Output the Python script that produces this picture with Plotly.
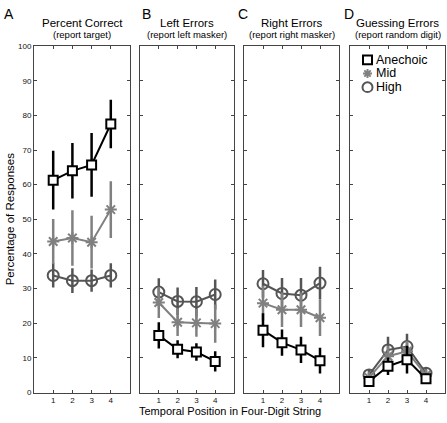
import plotly.graph_objects as go

W, H = 447, 423

positions = [1, 2, 3, 4]
series_names = ["Anechoic", "Mid", "High"]
panel_letters = ["A", "B", "C", "D"]
panel_titles = ["Percent Correct", "Left Errors", "Right Errors", "Guessing Errors"]
panel_subtitles = ["(report target)", "(report left masker)", "(report right masker)", "(report random digit)"]
y_ticks = [0, 10, 20, 30, 40, 50, 60, 70, 80, 90, 100]
x_title = "Temporal Position in Four-Digit String"
y_title = "Percentage of Responses"

# one row per panel (A, B, C, D), values at positions 1..4
anechoic_mean = [[61.3, 64.0, 65.7, 77.5], [16.5, 12.5, 11.7, 9.0], [18.0, 14.4, 12.3, 9.2], [3.2, 7.6, 9.5, 4.0]]
anechoic_err = [[8.5, 8.0, 9.2, 7.0], [3.8, 2.6, 2.5, 2.9], [4.9, 3.8, 3.8, 3.7], [1.5, 2.5, 4.0, 1.5]]
mid_mean = [[43.6, 44.6, 43.4, 52.8], [26.0, 20.3, 20.1, 19.9], [25.8, 23.9, 23.9, 21.6], [4.3, 10.5, 11.9, 5.0]]
mid_err = [[6.5, 8.0, 7.6, 8.2], [4.5, 4.0, 4.0, 5.5], [5.0, 5.0, 5.0, 5.3], [1.5, 3.0, 3.0, 1.5]]
high_mean = [[33.8, 32.3, 32.3, 33.8], [29.0, 26.3, 26.2, 28.3], [31.4, 28.6, 28.1, 31.6], [5.1, 12.3, 13.3, 5.6]]
high_err = [[3.5, 3.6, 3.2, 3.5], [4.0, 4.0, 4.3, 4.3], [4.0, 4.5, 5.0, 4.7], [1.5, 3.8, 3.7, 1.5]]

means = {"Anechoic": anechoic_mean, "Mid": mid_mean, "High": high_mean}
errs = {"Anechoic": anechoic_err, "Mid": mid_err, "High": high_err}
styles = {
    "Anechoic": dict(color="#000000", symbol="square", fill="#ffffff", size=9),
    "Mid": dict(color="#808080", symbol="asterisk-open", fill="#808080", size=10),
    "High": dict(color="#555555", symbol="circle-open", fill="#555555", size=11),
}

FONT = "Liberation Sans, Arial, sans-serif"
panel_px = [(34, 130), (140, 234), (244, 339), (350, 445)]
y_top_px, y_bot_px = 43, 397

fig = go.Figure()

for i in range(4):
    ax = "" if i == 0 else str(i + 1)
    for name in ["High", "Mid", "Anechoic"]:
        st = styles[name]
        fig.add_trace(go.Scatter(
            x=positions, y=means[name][i],
            xaxis="x" + ax, yaxis="y" + ax,
            mode="lines+markers",
            line=dict(color=st["color"], width=2),
            marker=dict(symbol=st["symbol"], size=st["size"], color=st["fill"],
                        line=dict(color=st["color"], width=2)),
            error_y=dict(type="data", array=errs[name][i], visible=True,
                         color=st["color"], thickness=2.5, width=0),
            showlegend=False, hoverinfo="skip",
        ))


def px(x):
    return x / W


def py(y):
    return 1 - y / H


layout = dict(
    width=W, height=H,
    margin=dict(l=0, r=0, t=0, b=0),
    paper_bgcolor="white", plot_bgcolor="white",
    font=dict(family=FONT, color="#000000"),
    showlegend=False,
)

annotations = []
shapes = []
for i in range(4):
    ax = "" if i == 0 else str(i + 1)
    x0, x1 = panel_px[i]
    layout["xaxis" + ax] = dict(
        domain=[px(x0), px(x1)], range=[0, 5], anchor="y" + ax,
        tickvals=positions, ticktext=[str(p) for p in positions],
        ticks="inside", ticklen=3, tickcolor="#444", tickwidth=1,
        showline=True, linecolor="#444", linewidth=1, mirror="ticks",
        showgrid=False, zeroline=False,
        tickfont=dict(size=8, family=FONT, color="#111"),
        fixedrange=True,
    )
    layout["yaxis" + ax] = dict(
        domain=[py(y_bot_px), py(y_top_px)], range=[0, 100], anchor="x" + ax,
        tickvals=y_ticks, ticks="inside", ticklen=3, tickcolor="#444", tickwidth=1,
        showline=True, linecolor="#444", linewidth=1, mirror="ticks",
        showgrid=False, zeroline=False, showticklabels=(i == 0),
        tickfont=dict(size=8, family=FONT, color="#111"),
        fixedrange=True,
    )
    cx = px((x0 + x1) / 2)
    annotations.append(dict(text=panel_titles[i], x=cx, y=py(19), xref="paper", yref="paper",
                            xanchor="center", yanchor="middle", showarrow=False,
                            font=dict(size=11.5, family=FONT)))
    annotations.append(dict(text=panel_subtitles[i], x=cx, y=py(31), xref="paper", yref="paper",
                            xanchor="center", yanchor="middle", showarrow=False,
                            font=dict(size=9.5, family=FONT)))

letter_px = [2, 140, 236, 342]
for i in range(4):
    annotations.append(dict(text=panel_letters[i], x=px(letter_px[i]), y=py(10),
                            xref="paper", yref="paper", xanchor="left", yanchor="middle",
                            showarrow=False, font=dict(size=14, family=FONT)))

annotations.append(dict(text=x_title, x=px(230), y=py(416), xref="paper", yref="paper",
                        xanchor="center", yanchor="middle", showarrow=False,
                        font=dict(size=11, family=FONT)))
annotations.append(dict(text=y_title, x=px(10), y=py(220), xref="paper", yref="paper",
                        xanchor="center", yanchor="middle", showarrow=False, textangle=-90,
                        font=dict(size=11.5, family=FONT)))

# legend (custom, compact like the reference)
leg_sym_x = 367.5
leg_text_x = 375
leg_rows = [57, 71, 85]
for name, yy in zip(series_names, leg_rows):
    annotations.append(dict(text=name, x=px(leg_text_x), y=py(yy), xref="paper", yref="paper",
                            xanchor="left", yanchor="middle", showarrow=False, borderpad=0,
                            font=dict(size=12.5, family=FONT)))
s = 4.5
shapes.append(dict(type="rect", xref="paper", yref="paper",
                   x0=px(leg_sym_x - s), x1=px(leg_sym_x + s),
                   y0=py(leg_rows[0] + s), y1=py(leg_rows[0] - s),
                   line=dict(color=styles["Anechoic"]["color"], width=2), fillcolor="white"))
r = 4.5
d = r * 0.707
yy = leg_rows[1]
path = (f"M{px(leg_sym_x)},{py(yy - r)} L{px(leg_sym_x)},{py(yy + r)} "
        f"M{px(leg_sym_x - r)},{py(yy)} L{px(leg_sym_x + r)},{py(yy)} "
        f"M{px(leg_sym_x - d)},{py(yy - d)} L{px(leg_sym_x + d)},{py(yy + d)} "
        f"M{px(leg_sym_x - d)},{py(yy + d)} L{px(leg_sym_x + d)},{py(yy - d)}")
shapes.append(dict(type="path", xref="paper", yref="paper", path=path,
                   line=dict(color=styles["Mid"]["color"], width=2)))
c = 5
shapes.append(dict(type="circle", xref="paper", yref="paper",
                   x0=px(leg_sym_x - c), x1=px(leg_sym_x + c),
                   y0=py(leg_rows[2] + c), y1=py(leg_rows[2] - c),
                   line=dict(color=styles["High"]["color"], width=2)))

layout["annotations"] = annotations
layout["shapes"] = shapes
fig.update_layout(**layout)
fig.write_html("out.html", config={"displayModeBar": False},
               post_script="document.body.style.margin='0px';")
